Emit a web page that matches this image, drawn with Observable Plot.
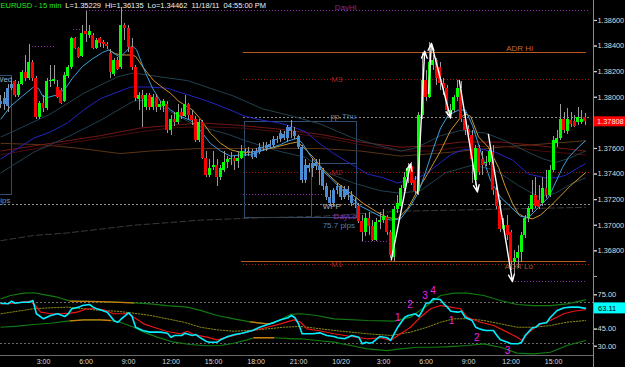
<!DOCTYPE html>
<html><head><meta charset="utf-8">
<script src="https://cdn.jsdelivr.net/npm/d3@7"></script>
<script src="https://cdn.jsdelivr.net/npm/@observablehq/plot@0.6"></script>
<style>
html,body{margin:0;padding:0;background:#000;}
#chart{position:relative;width:625px;height:367px;overflow:hidden;background:#000;}
#chart svg{display:block;overflow:visible;}
</style></head><body><div id="chart"></div>
<script>
// ---------- DATA ----------
const open = [1.3797,1.3794,1.3793,1.3807,1.3812,1.3801,1.3810,1.3819,1.3815,1.3827,
1.3815,1.3784,1.3795,1.3791,1.3812,1.3812,1.3808,1.3805,1.3797,1.3816,
1.3823,1.3846,1.3838,1.3832,1.3851,1.3848,1.3848,1.3838,1.3846,1.3843,
1.3841,1.3834,1.3818,1.3829,1.3823,1.3856,1.3854,1.3839,1.3823,1.3798,
1.3801,1.3792,1.3801,1.3792,1.3800,1.3792,1.3793,1.3794,1.3774,1.3783,
1.3780,1.3788,1.3785,1.3794,1.3786,1.3783,1.3766,1.3780,1.3752,1.3739,
1.3745,1.3747,1.3737,1.3743,1.3749,1.3751,1.3752,1.3750,1.3752,1.3758,
1.3757,1.3758,1.3753,1.3757,1.3761,1.3760,1.3761,1.3762,1.3766,1.3767,
1.3771,1.3768,1.3776,1.3773,1.3769,1.3761,1.3735,1.3747,1.3744,1.3748,
1.3746,1.3743,1.3730,1.3722,1.3717,1.3727,1.3730,1.3722,1.3728,1.3723,
1.3717,1.3715,1.3703,1.3694,1.3705,1.3699,1.3688,1.3702,1.3704,1.3706,
1.3694,1.3675,1.3712,1.3715,1.3729,1.3737,1.3746,1.3735,1.3726,1.3786,
1.3813,1.3800,1.3825,1.3829,1.3823,1.3811,1.3807,1.3787,1.3790,1.3800,
1.3807,1.3783,1.3775,1.3770,1.3735,1.3760,1.3751,1.3748,1.3749,1.3757,
1.3727,1.3715,1.3697,1.3700,1.3694,1.3671,1.3674,1.3679,1.3692,1.3705,
1.3712,1.3723,1.3719,1.3717,1.3729,1.3723,1.3743,1.3764,1.3768,1.3783,
1.3773,1.3782,1.3781,1.3780,1.3780,1.3784];
const close = [1.3794,1.3799,1.3807,1.3810,1.3801,1.3810,1.3819,1.3815,1.3827,1.3815,
1.3784,1.3795,1.3791,1.3812,1.3813,1.3814,1.3800,1.3795,1.3817,1.3823,
1.3846,1.3838,1.3831,1.3850,1.3849,1.3851,1.3838,1.3844,1.3842,1.3841,
1.3840,1.3819,1.3829,1.3822,1.3856,1.3854,1.3839,1.3823,1.3799,1.3801,
1.3798,1.3801,1.3792,1.3800,1.3792,1.3794,1.3797,1.3774,1.3783,1.3780,
1.3788,1.3785,1.3794,1.3786,1.3782,1.3766,1.3780,1.3752,1.3739,1.3744,
1.3747,1.3737,1.3744,1.3749,1.3751,1.3752,1.3750,1.3752,1.3758,1.3757,
1.3758,1.3753,1.3758,1.3761,1.3760,1.3762,1.3763,1.3767,1.3767,1.3772,
1.3768,1.3776,1.3773,1.3769,1.3761,1.3735,1.3747,1.3744,1.3748,1.3746,
1.3743,1.3730,1.3722,1.3717,1.3727,1.3730,1.3722,1.3728,1.3723,1.3717,
1.3716,1.3703,1.3694,1.3705,1.3699,1.3688,1.3702,1.3704,1.3707,1.3694,
1.3676,1.3712,1.3717,1.3729,1.3737,1.3744,1.3733,1.3726,1.3786,1.3813,
1.3800,1.3827,1.3829,1.3815,1.3811,1.3807,1.3790,1.3790,1.3800,1.3807,
1.3783,1.3774,1.3770,1.3751,1.3760,1.3741,1.3747,1.3749,1.3758,1.3727,
1.3715,1.3697,1.3700,1.3692,1.3672,1.3674,1.3679,1.3692,1.3705,1.3713,
1.3723,1.3715,1.3714,1.3729,1.3723,1.3743,1.3766,1.3768,1.3783,1.3774,
1.3783,1.3779,1.3777,1.3784,1.3783,1.37808];
const high = [1.3801,1.3804,1.3810,1.3812,1.3813,1.3812,1.3821,1.3833,1.3841,1.3829,
1.3816,1.3797,1.3801,1.3815,1.3825,1.3825,1.3813,1.3807,1.3819,1.3825,
1.3847,1.3847,1.3839,1.3856,1.3867,1.3856,1.3850,1.3846,1.3847,1.3844,
1.3843,1.3837,1.3830,1.3831,1.3870,1.3858,1.3856,1.3846,1.3825,1.3804,
1.3805,1.3803,1.3803,1.3802,1.3802,1.3797,1.3798,1.3797,1.3786,1.3788,
1.3794,1.3791,1.3801,1.3795,1.3790,1.3785,1.3783,1.3782,1.3758,1.3751,
1.3758,1.3751,1.3747,1.3758,1.3754,1.3757,1.3754,1.3758,1.3762,1.3760,
1.3761,1.3759,1.3760,1.3764,1.3765,1.3765,1.3766,1.3769,1.3769,1.3774,
1.3773,1.3778,1.3782,1.3776,1.3770,1.3762,1.3751,1.3748,1.3752,1.3751,
1.3751,1.3744,1.3733,1.3727,1.3729,1.3733,1.3731,1.3730,1.3730,1.3726,
1.3721,1.3717,1.3708,1.3709,1.3710,1.3704,1.3705,1.3710,1.3712,1.3708,
1.3696,1.3715,1.3723,1.3731,1.3741,1.3748,1.3749,1.3738,1.3788,1.3835,
1.3821,1.3843,1.3833,1.3830,1.3827,1.3815,1.3809,1.3794,1.3801,1.3813,
1.3812,1.3788,1.3778,1.3774,1.3762,1.3762,1.3758,1.3754,1.3760,1.3762,
1.3731,1.3719,1.3705,1.3708,1.3696,1.3680,1.3684,1.3694,1.3708,1.3715,
1.3735,1.3737,1.3731,1.3737,1.3743,1.3747,1.3769,1.3774,1.3794,1.3788,
1.3791,1.3788,1.3786,1.3792,1.3790,1.3787];
const low = [1.3791,1.3790,1.3788,1.3805,1.3800,1.3800,1.3809,1.3812,1.3813,1.3812,
1.3783,1.3783,1.3788,1.3790,1.3808,1.3810,1.3799,1.3794,1.3796,1.3815,
1.3822,1.3837,1.3830,1.3831,1.3843,1.3846,1.3837,1.3837,1.3839,1.3838,
1.3837,1.3815,1.3816,1.3821,1.3822,1.3844,1.3835,1.3821,1.3797,1.3790,
1.3776,1.3790,1.3790,1.3790,1.3788,1.3790,1.3788,1.3772,1.3770,1.3777,
1.3779,1.3783,1.3784,1.3783,1.3778,1.3765,1.3765,1.3751,1.3737,1.3737,
1.3743,1.3730,1.3735,1.3741,1.3744,1.3747,1.3743,1.3744,1.3751,1.3754,
1.3754,1.3751,1.3752,1.3755,1.3758,1.3758,1.3760,1.3761,1.3764,1.3765,
1.3766,1.3765,1.3768,1.3767,1.3759,1.3733,1.3733,1.3741,1.3737,1.3743,
1.3731,1.3727,1.3719,1.3715,1.3715,1.3724,1.3719,1.3720,1.3719,1.3715,
1.3713,1.3701,1.3687,1.3691,1.3692,1.3687,1.3687,1.3697,1.3701,1.3692,
1.3674,1.3672,1.3709,1.3713,1.3726,1.3733,1.3731,1.3723,1.3723,1.3783,
1.3797,1.3799,1.3821,1.3809,1.3805,1.3801,1.3786,1.3783,1.3788,1.3797,
1.3780,1.3770,1.3766,1.3733,1.3731,1.3739,1.3739,1.3746,1.3747,1.3723,
1.3712,1.3694,1.3696,1.3688,1.3665,1.3661,1.3666,1.3671,1.3690,1.3702,
1.3710,1.3713,1.3712,1.3715,1.3721,1.3722,1.3741,1.3761,1.3766,1.3772,
1.3771,1.3776,1.3776,1.3778,1.3779,1.3778];
const lastPrice = 1.37808;

// moving averages: [bar, price]
const fastMA = [[0,1.3783],[2.7,1.3793],[6.1,1.3801],[9.2,1.3808],[10.6,1.3807],[11.7,1.3801],[13.4,1.3800],[16,1.3802],[18.2,1.3807],[20.2,1.3815],[23,1.3824],[25.8,1.3830],[28.7,1.3835],[30.4,1.3837],[31.5,1.3835],[33.2,1.3832],[34.3,1.3833],[36,1.3838],[37.1,1.3840],[38.3,1.3837],[39.4,1.3829],[40.8,1.3819],[42.8,1.3807],[45,1.3797],[47.9,1.3790],[50.7,1.3785],[53.5,1.3782],[56.3,1.3774],[59.1,1.3764],[62,1.3758],[64.8,1.3754],[67.6,1.3755],[70.4,1.3755],[73.3,1.3758],[76.7,1.3761],[78.9,1.3763],[81.2,1.3766],[83.7,1.3768],[85.1,1.3764],[87.4,1.3754],[90.2,1.3744],[93,1.3737],[95.8,1.3729],[98.7,1.3722],[101.5,1.3715],[104.3,1.3711],[107.1,1.3707],[110,1.3704],[112.8,1.3705],[115.6,1.3715],[117.9,1.3726],[119.8,1.3741],[121.8,1.3758],[124.1,1.3776],[126.3,1.3786],[129.2,1.3790],[131.1,1.3790],[133.1,1.3778],[135.4,1.3758],[138.2,1.3735],[141,1.3722],[144.4,1.3713],[146.7,1.3707],[148.9,1.3706],[151.8,1.3714],[154.6,1.3722],[156.5,1.3733],[158.5,1.3745],[160.2,1.3753],[163,1.3761],[165,1.3766]];
const goldMA = [[30.4,1.3837],[32.3,1.3834],[34.3,1.3833],[36.6,1.3833],[38,1.3832],[40.2,1.3823],[43.1,1.3813],[45.9,1.3807],[47.9,1.3803],[50.1,1.3797],[54.1,1.3790],[56.3,1.3783],[59.1,1.3772],[62,1.3764],[64.8,1.3759],[67.6,1.3757],[70.4,1.3757],[76.1,1.3760],[81.7,1.3764],[83.7,1.3765],[85.4,1.3761],[88.2,1.3753],[91.1,1.3743],[95,1.3733],[98.7,1.3725],[102.3,1.3717],[106.3,1.3710],[109.1,1.3706],[111.9,1.3705],[114.8,1.3713],[117.6,1.3727],[120.4,1.3740],[124.1,1.3758],[126.9,1.3774],[129.7,1.3784],[131.1,1.3787],[132.6,1.3785],[134.8,1.3769],[137.6,1.3761],[140.5,1.3745],[142.4,1.3730],[144.4,1.3717],[146.1,1.3709],[148.1,1.3706],[150.1,1.3705],[152.3,1.3708],[155.1,1.3715],[158,1.3723],[160.8,1.3731],[165,1.3741]];
const midMA = [[0,1.3752],[4.7,1.3760],[9.2,1.3768],[14,1.3773],[18.8,1.3780],[23.3,1.3790],[28.1,1.3799],[32.9,1.3804],[36.6,1.3808],[42.2,1.3808],[47,1.3807],[52.7,1.3802],[58.3,1.3797],[64.8,1.3790],[69,1.3785],[73.8,1.3782],[78.3,1.3780],[82.3,1.3777],[86,1.3773],[89.4,1.3765],[93.9,1.3756],[98.7,1.3748],[103.5,1.3740],[108,1.3737],[111.9,1.3733],[114.8,1.3735],[118.4,1.3738],[121.3,1.3743],[124.1,1.3749],[126.9,1.3755],[130.3,1.3759],[134.8,1.3760],[139.6,1.3757],[144.4,1.3751],[148.9,1.3740],[153.7,1.3737],[156.5,1.3737],[159.4,1.3739],[163,1.3745],[165,1.3748]];
const envUpper = [[0,1.3769],[5.5,1.3776],[14,1.3787],[23.3,1.3803],[32.9,1.3816],[37.4,1.3819],[42.2,1.3817],[52.7,1.3813],[59.1,1.3807],[65.6,1.3801],[73.8,1.3791],[82.6,1.3785],[90.2,1.3779],[99.5,1.3768],[107.1,1.3762],[112.8,1.3758],[116.5,1.3760],[119.8,1.3764],[124.1,1.3770],[129.7,1.3774],[136.8,1.3772],[142.4,1.3766],[148.1,1.3758],[152.9,1.3752],[156.5,1.3749],[160.2,1.3752],[165,1.3758]];
const envLower = [[0,1.3741],[9.2,1.3757],[18.8,1.3769],[28.1,1.3782],[37.4,1.3797],[42.2,1.3798],[47,1.3790],[54.9,1.3778],[64.2,1.3771],[69,1.3766],[78.3,1.3758],[86,1.3753],[92.2,1.3741],[99.5,1.3733],[107.1,1.3727],[112.8,1.3725],[118.4,1.3727],[125.5,1.3741],[133.1,1.3747],[139.6,1.3743],[146.1,1.3731],[151.8,1.3722],[156.5,1.3725],[161.4,1.3733],[165,1.3737]];
const brownMA = [[0,1.3764],[11.2,1.3763],[22.4,1.3760],[33.7,1.3756],[42.2,1.3758],[56.3,1.3760],[73.3,1.3760],[90.2,1.3760],[101.5,1.3758],[112.8,1.3754],[126.9,1.3757],[141,1.3761],[165,1.3766]];
const redMA1 = [[0,1.3758],[14,1.3764],[28.1,1.3770],[39.4,1.3776],[47.9,1.3778],[56.3,1.3780],[67.6,1.3778],[78.9,1.3775],[90.2,1.3771],[101.5,1.3765],[112.8,1.3761],[121.3,1.3762],[129.7,1.3765],[141,1.3765],[152.3,1.3762],[165,1.3758]];
const redMA2 = [[0,1.3755],[14,1.3762],[28.1,1.3768],[39.4,1.3773],[47.9,1.3776],[56.3,1.3777],[67.6,1.3776],[78.9,1.3773],[90.2,1.3769],[101.5,1.3763],[112.8,1.3758],[121.3,1.3758],[129.7,1.3761],[141,1.3762],[152.3,1.3758],[165,1.3755]];
const slowMA = [[0,1.3688],[9.2,1.3692],[18.8,1.3694],[28.1,1.3697],[37.4,1.3700],[47,1.3702],[56.3,1.3704],[65.6,1.3705],[75.2,1.3706],[90.2,1.3707],[112.8,1.3711],[131.7,1.3712],[165,1.3714]];

// horizontal levels
const levels = [
  {name:"DayHi", price:1.3868, from:24, to:166.4, kind:"purple"},
  {name:"", price:1.3840, from:8, to:15.4, kind:"purple"},
  {name:"", price:1.3853, from:20.5, to:23.9, kind:"purple"},
  {name:"", price:1.3724, from:68.5, to:90.8, kind:"purple"},
  {name:"DayLo", price:1.3687, from:102, to:109.4, kind:"purple"},
  {name:"", price:1.3656, from:145.3, to:165.2, kind:"purple"},
  {name:"ADR Hi", price:1.3835, from:68.5, to:165.2, kind:"adr"},
  {name:"ADR Lo", price:1.3672, from:67.9, to:165.2, kind:"adr"},
  {name:"M3", price:1.3814, from:68.5, to:166.4, kind:"m"},
  {name:"M2", price:1.3741, from:68.5, to:166.4, kind:"m"},
  {name:"M1", price:1.3669, from:68.5, to:166.4, kind:"m"},
  {name:"pp.Thu", price:1.3784, from:68.5, to:166.4, kind:"pivot"},
  {name:"WPP", price:1.3716, from:0, to:166.4, kind:"pivot"}
];
const labels = [
  {text:"DayHi", i:97.3, price:1.38705, color:"#7a2c9c", anchor:"middle"},
  {text:"ADR Hi", i:146.4, price:1.38385, color:"#c4682c", anchor:"middle"},
  {text:"M3", i:94.8, price:1.3814, color:"#a82020", anchor:"middle"},
  {text:"pp.", i:93, price:1.3785, color:"#808080", anchor:"start"},
  {text:"Thu", i:96.3, price:1.3785, color:"#4a7ab8", anchor:"start"},
  {text:"M2", i:94.8, price:1.3741, color:"#a82020", anchor:"middle"},
  {text:"WPP", i:90.8, price:1.3715, color:"#b4b4b4", anchor:"start"},
  {text:"DayLo", i:93.9, price:1.37068, color:"#9a30b4", anchor:"start"},
  {text:"75.7 pips", i:90.8, price:1.36998, color:"#4f7fba", anchor:"start"},
  {text:"M1", i:94.8, price:1.3669, color:"#a82020", anchor:"middle"},
  {text:"ADR Lo", i:146.2, price:1.3668, color:"#a8582a", anchor:"middle"},
  {text:"Wed", i:3.2, price:1.3814, color:"#8fb4d6", anchor:"end"},
  {text:"pips", i:2.7, price:1.37195, color:"#6f95bd", anchor:"end"}
];
const sessionBoxes = [
  {from:-1, to:3.1, top:1.3817, bottom:1.3724},
  {from:68.75, to:100.4, top:1.3781, bottom:1.3706}
];
const innerBoxes = [{from:87.9, to:100.4, top:1.3748, bottom:1.3706}];
const waveArrows = [
  {i1:110.2, p1:1.3673, i2:115.6, p2:1.3748},
  {i1:117.6, p1:1.3725, i2:119.6, p2:1.3836},
  {i1:120.7, p1:1.3803, i2:121.5, p2:1.3842},
  {i1:121.5, p1:1.3842, i2:126.9, p2:1.3784},
  {i1:129.4, p1:1.3813, i2:134.5, p2:1.3726},
  {i1:137.6, p1:1.3771, i2:144.4, p2:1.3656}
];
const priceTicks = [1.366,1.368,1.370,1.372,1.374,1.376,1.378,1.380,1.382,1.384,1.386];
const priceLabelTicks = [1.368,1.370,1.372,1.374,1.376,1.380,1.382,1.384,1.386];

// indicator panel: [bar, value]
const rsi = [[0,67.6],[2,67.1],[3,69.4],[4,67.6],[6,68.5],[8,68.5],[9,70.0],[10,58.4],[12,54.0],[14,56.9],[16,58.4],[18,56.0],[19,58.4],[20,62.8],[22,64.2],[23,65.6],[25,66.5],[26,64.2],[27,62.8],[28,61.9],[30,59.8],[32,52.0],[33,51.0],[34,54.0],[36,59.2],[37,56.0],[38,46.6],[40,43.8],[42,42.3],[45,42.3],[47,41.4],[48,37.9],[49,39.4],[51,39.4],[52,41.4],[54,39.4],[55,40.2],[56,37.9],[58,34.1],[59,33.5],[61,33.5],[62,35.6],[64,38.5],[66,40.2],[68,41.4],[71,43.8],[73,46.6],[76,49.6],[79,53.1],[81,54.9],[82,56.9],[83,54.9],[84,49.6],[85,40.9],[88,40.9],[90,41.7],[92,39.4],[94,38.5],[95,37.4],[97,36.5],[98,37.9],[99,39.4],[101,37.9],[102,32.1],[103,33.5],[104,32.6],[105,33.5],[107,38.5],[109,37.4],[110,35.0],[112,46.6],[114,55.4],[115,56.9],[117,58.4],[118,56.0],[119,61.3],[120,67.6],[121,68.0],[122,71.5],[124,70.9],[125,67.1],[126,64.2],[127,60.6],[129,59.8],[130,60.6],[131,55.4],[133,52.5],[134,46.6],[135,45.2],[136,44.3],[137,43.8],[139,43.8],[140,39.4],[141,35.6],[143,33.5],[144,32.1],[146,32.1],[147,33.5],[148,39.4],[150,46.1],[151,46.6],[152,49.6],[154,50.5],[155,54.9],[157,61.3],[159,63.6],[161,64.2],[163,64.2],[165,63.11]];
const lastRsi = 63.11;
const signal = [[0,67.1],[3.6,67.6],[8.3,69.4],[9.7,65.6],[11.2,59.8],[14,58.4],[16.8,58.4],[19.6,58.9],[21.5,59.8],[24.3,62.8],[27.2,62.8],[29,61.9],[31.8,58.4],[34.7,58.4],[36.1,58.9],[37.5,55.4],[40.3,49.6],[43.1,46.6],[46.9,42.9],[50.7,40.9],[52.6,43.1],[54.4,40.2],[58.2,37.9],[61,35.6],[63.9,37.9],[67.6,40.9],[71.4,43.8],[75.2,46.6],[78.9,49.6],[82.7,53.1],[84.6,51.0],[86.4,45.2],[90.2,43.3],[94,40.9],[98.7,38.5],[103.4,36.5],[107.1,37.4],[110,35.0],[112.8,40.9],[115.6,46.6],[118.4,55.4],[121.3,62.8],[124.1,65.6],[126.9,64.2],[129.7,62.8],[131.6,55.4],[135.4,51.0],[139.1,48.1],[142.9,42.3],[145.7,37.9],[147.1,35.0],[148.6,40.9],[151.4,48.1],[155.1,52.5],[158.9,58.4],[161.7,60.6],[165,61.9]];
const upperBand = [[0,71.5],[2.7,74.4],[6.4,76.4],[9.3,76.8],[12.1,75.2],[15.9,72.9],[19.6,69.4],[28.1,69.1],[37.5,68.0],[42.2,67.1],[46.9,65.6],[52.6,64.2],[56.3,61.3],[61,56.9],[65.7,54.0],[70.4,51.3],[75.2,49.6],[76.9,50.2],[78.9,53.1],[81.7,57.8],[84.6,58.4],[89.1,56.9],[94,54.0],[103.4,52.5],[110.9,51.9],[115.6,55.4],[120.3,65.6],[124.1,74.4],[127.8,76.4],[131.6,76.4],[136.3,74.4],[141,70.0],[145.7,66.5],[150.4,65.6],[155.1,65.6],[159.8,67.1],[165,70.6]];
const lowerBand = [[0,46.6],[4.6,47.5],[9.3,49.0],[14,50.1],[18.7,51.9],[19.6,52.1],[23.4,53.1],[28.1,53.1],[30.9,52.5],[33.7,51.0],[37.5,46.6],[40.3,42.3],[44.1,37.9],[48.8,33.5],[53.5,31.5],[58.2,30.4],[62,30.6],[65.7,32.6],[69.5,35.6],[71.4,37.4],[77,37.4],[82.7,36.5],[84.6,36.5],[89.3,35.0],[94,33.5],[98.7,30.6],[103.4,27.7],[109,26.2],[112.8,27.7],[117.5,29.1],[122.2,29.1],[126.9,29.7],[131.6,30.6],[136.3,32.1],[141,29.1],[145.7,23.9],[150.4,23.3],[155.1,24.7],[159.8,30.6],[165,35.0]];
const squeezeUpper = [[[19.6,69.4],[28.1,69.1],[37.5,68.0]], [[70.4,51.3],[75.2,49.6],[76.9,50.2]]];
const squeezeLower = [[[19.6,52.1],[23.4,53.1],[28.1,53.1],[30.9,52.5]], [[71.4,37.4],[77,37.4]]];
const midBand = [[0,58.4],[4.6,60.6],[9.3,62.8],[14,63.6],[18.7,64.2],[23.4,62.8],[28.1,61.3],[32.8,60.6],[37.5,58.9],[42.2,56.9],[46.9,54.0],[51.6,51.0],[56.3,46.6],[61,44.3],[65.7,43.1],[70.4,43.8],[75.2,45.2],[79.8,46.6],[84.6,47.3],[94,43.8],[103.4,40.9],[110,39.4],[115.6,42.3],[120.3,46.6],[124.1,51.0],[127.8,54.0],[131.6,54.0],[136.3,52.5],[141,49.6],[145.7,46.6],[150.4,46.6],[155.1,48.1],[159.8,51.0],[165,52.5]];
const rsiLevels = [68, 32];
const waveLabels = [
  {i:112, v:54.9, t:"1"}, {i:115.5, v:66.5, t:"2"}, {i:119.7, v:74.4, t:"3"}, {i:122, v:78.2, t:"4"},
  {i:127.2, v:52.5, t:"1"}, {i:134.3, v:37.0, t:"2"}, {i:143, v:25.6, t:"3"}
];
const rsiTicks = [30, 45, 60, 75];
const rsiLabelTicks = [30, 45, 75];
const timeTicks = [12,24,36,48,60,72,84,96,108,120,132,144,156];
const timeLabels = ["3:00","6:00","9:00","12:00","15:00","18:00","21:00","10/20","3:00","6:00","9:00","12:00","15:00"];
const titleParts = ["EURUSD - 15 min","L=1.35229","Hi=1.36135","Lo=1.34462","11/18/11","04:55:00 PM"];

// ---------- RENDER ----------
const FONT = "Arial, 'Liberation Sans', sans-serif";
const W = 625, MR = 32;
const XDOM = [-0.14, 167.27];
const pts = arr => arr.map(([i, v]) => ({i, v}));
const candles = close.map((c, i) => ({
  i, o: open[i], h: high[i], l: low[i], c,
  blue: sessionBoxes.some(b => i >= b.from && i <= b.to)
}));
const bodyColor = d => d.blue ? "#4a8bd2" : (d.c >= d.o ? "#00ff00" : "#ff0000");
const styleOf = {
  purple: {stroke:"#8c2aaa", dash:"1,2"},
  adr: {stroke:"#b85a20", dash:null},
  m: {stroke:"#a81414", dash:"1,2"},
  pivot: {stroke:"#8c8c8c", dash:"2,2"}
};
const levelMarks = Object.keys(styleOf).map(k => Plot.ruleY(levels.filter(d => d.kind === k), {
  y:"price", x1:"from", x2:"to", stroke: styleOf[k].stroke,
  strokeDasharray: styleOf[k].dash, strokeWidth: 1, shapeRendering: "crispEdges"
}));
const maLine = (data, stroke, extra = {}) => Plot.line(pts(data), {x:"i", y:"v", stroke, strokeWidth:1, ...extra});
const textMarks = ["middle","start","end"].map(a => Plot.text(labels.filter(d => d.anchor === a), {
  x:"i", y:"price", text:"text", fill:"color", textAnchor:a, fontSize:8
}));

const main = Plot.plot({
  width: W, height: 289,
  marginLeft: 0, marginRight: MR, marginTop: 0, marginBottom: 0,
  x: {domain: XDOM, axis: null, label: null},
  y: {domain: [1.36498, 1.38756], label: null},
  color: {type: "identity"},
  style: {background:"#000", fontFamily: FONT, overflow:"visible"},
  marks: [
    ...levelMarks,
    Plot.rect(sessionBoxes, {x1:"from", x2:"to", y1:"bottom", y2:"top", fill:"none", stroke:"#2e4d6e", shapeRendering:"crispEdges"}),
    Plot.rect(innerBoxes, {x1:"from", x2:"to", y1:"bottom", y2:"top", fill:"none", stroke:"#2e4d6e", shapeRendering:"crispEdges"}),
    maLine(slowMA, "#3a3a3a", {strokeDasharray:"6,3"}),
    maLine(brownMA, "#5a3414"),
    maLine(redMA2, "#4d0c0c"),
    maLine(redMA1, "#761616"),
    maLine(envUpper, "#23404f"),
    maLine(envLower, "#23404f"),
    maLine(midMA, "#2424c4"),
    maLine(goldMA, "#d0952c"),
    maLine(fastMA, "#3c9fe0"),
    Plot.ruleX(candles, {x:"i", y1:"l", y2:"h", stroke:"#9a9a9a", shapeRendering:"crispEdges"}),
    Plot.rect(candles, {x1: d => d.i - 0.42, x2: d => d.i + 0.42, y1:"o", y2:"c", fill: bodyColor, shapeRendering:"crispEdges"}),
    ...textMarks,
    Plot.arrow(waveArrows, {x1:"i1", y1:"p1", x2:"i2", y2:"p2", stroke:"#ffffff", strokeWidth:1.4, headLength:8, headAngle:45}),
    Plot.axisY(priceTicks, {anchor:"right", label:null, tickSize:3, tickFormat: () => "", stroke:"#aaa"}),
    Plot.axisY(priceLabelTicks, {anchor:"right", label:null, tickSize:3, tickPadding:1, tickFormat: d => d.toFixed(5), fontSize:7.4, color:"#dcdcdc"})
  ]
});

const tickLabel = new Map(timeTicks.map((t, k) => [t, timeLabels[k]]));
const ind = Plot.plot({
  width: W, height: 78,
  marginLeft: 0, marginRight: MR, marginTop: 0, marginBottom: 12,
  x: {domain: XDOM, label: null},
  y: {domain: [21.86, 79.64], label: null},
  color: {type: "identity"},
  style: {background:"#000", fontFamily: FONT, overflow:"visible"},
  marks: [
    Plot.ruleY(rsiLevels, {stroke:"#6a6a6a", strokeDasharray:"2,2", shapeRendering:"crispEdges"}),
    Plot.line(pts(upperBand), {x:"i", y:"v", stroke:"#127a12", strokeWidth:1.2}),
    Plot.line(pts(lowerBand), {x:"i", y:"v", stroke:"#127a12", strokeWidth:1.2}),
    ...squeezeUpper.concat(squeezeLower).map(s => Plot.line(pts(s), {x:"i", y:"v", stroke:"#d27a12", strokeWidth:1.3})),
    Plot.line(pts(midBand), {x:"i", y:"v", stroke:"#8c8c18", strokeDasharray:"1.5,1.5", strokeWidth:1}),
    Plot.line(pts(signal), {x:"i", y:"v", stroke:"#ee1515", strokeWidth:1.2}),
    Plot.line(pts(rsi), {x:"i", y:"v", stroke:"#00eeff", strokeWidth:1.6}),
    Plot.text(waveLabels, {x:"i", y:"v", text:"t", fill:"#ee22ee", fontSize:10}),
    Plot.axisY(rsiTicks, {anchor:"right", label:null, tickSize:3, tickFormat: () => "", stroke:"#aaa"}),
    Plot.axisY(rsiLabelTicks, {anchor:"right", label:null, tickSize:3, tickPadding:1, tickFormat: d => d.toFixed(2), fontSize:7.5, color:"#dcdcdc"}),
    Plot.axisX(timeTicks, {anchor:"bottom", label:null, tickSize:0, tickPadding:4, tickFormat: d => tickLabel.get(d), fontSize:7, color:"#dcdcdc"})
  ]
});

const host = document.getElementById("chart");
host.append(main, ind);

// decorations using the plots' own scales
const ym = main.scale("y"), yi = ind.scale("y");
const gm = d3.select(main), gi = d3.select(ind);
gm.append("line").attr("x1",593.5).attr("x2",593.5).attr("y1",0).attr("y2",289).attr("stroke","#8a8a8a");
const yp = ym.apply(lastPrice);
gm.append("rect").attr("x",594).attr("y",yp-5).attr("width",31).attr("height",10).attr("fill","#ff0000");
gm.append("text").attr("x",597).attr("y",yp).attr("dy","0.35em").attr("text-anchor","start").attr("fill","#ffe6e6")
  .attr("font-size",7.4).attr("font-family",FONT).text(lastPrice.toFixed(5));
const title = gm.append("text").attr("x",0.5).attr("y",8.2).attr("text-anchor","start")
  .attr("font-size",7.5).attr("font-family",FONT).attr("xml:space","preserve");
titleParts.forEach((t, k) => title.append("tspan").attr("dx", k === 0 ? 0 : 4)
  .attr("fill", k === 0 ? "#20e820" : "#f0f0f0").text(t));

gi.append("line").attr("x1",593.5).attr("x2",593.5).attr("y1",0).attr("y2",78).attr("stroke","#8a8a8a");
gi.append("line").attr("x1",0).attr("x2",593).attr("y1",66.5).attr("y2",66.5).attr("stroke","#6a6a6a");
const yr = yi.apply(lastRsi);
gi.append("rect").attr("x",594).attr("y",yr-5.5).attr("width",31).attr("height",11).attr("fill","#00ffff");
gi.append("text").attr("x",598).attr("y",yr).attr("dy","0.35em").attr("text-anchor","start").attr("fill","#000")
  .attr("font-size",7.5).attr("font-family",FONT).text(lastRsi.toFixed(2));
</script></body></html>
